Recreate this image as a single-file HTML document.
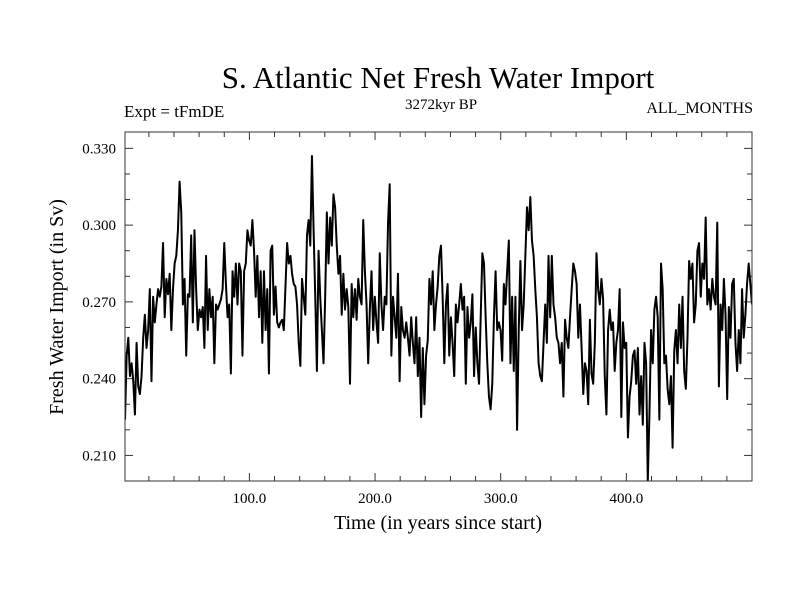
<!DOCTYPE html>
<html><head><meta charset="utf-8"><style>
body{margin:0;background:#fff;}
svg text{font-family:"Liberation Serif",serif;fill:#000;}
</style></head><body>
<svg id="chart" width="800" height="600" viewBox="0 0 800 600" xmlns="http://www.w3.org/2000/svg">
<rect width="800" height="600" fill="#fff"/>
<text x="438" y="88" font-size="31" text-anchor="middle">S. Atlantic Net Fresh Water Import</text>
<text x="124" y="117" font-size="17">Expt = tFmDE</text>
<text x="441" y="109" font-size="15" text-anchor="middle">3272kyr BP</text>
<text x="753" y="113" font-size="16" text-anchor="end">ALL_MONTHS</text>
<text transform="translate(63,307) rotate(-90)" font-size="20" text-anchor="middle">Fresh Water Import (in Sv)</text>
<text x="438" y="529" font-size="20" text-anchor="middle">Time (in years since start)</text>
<defs><clipPath id="clip"><rect x="125" y="132" width="627" height="349"/></clipPath></defs>
<g id="axes"></g>
<path id="series" fill="none" stroke="#000" stroke-width="2" stroke-linejoin="round" clip-path="url(#clip)"/>
<rect x="125" y="132" width="627" height="349" fill="none" stroke="#333" stroke-width="1"/>
</svg>
<script>
const values = [
0.224,0.249,0.256,0.241,0.246,0.239,0.226,0.254,0.237,0.234,0.241,0.256,0.265,0.252,0.259,0.275,0.239,0.272,0.262,0.269,0.275,0.272,0.276,0.293,0.264,0.279,0.273,0.281,0.259,0.275,0.285,0.288,0.298,0.317,0.305,0.269,0.279,0.249,
0.273,0.272,0.296,0.262,0.298,0.275,0.259,0.267,0.264,0.268,0.252,0.288,0.259,0.275,0.264,0.272,0.246,0.269,0.267,0.269,0.271,0.275,0.293,0.277,0.264,0.269,0.242,0.282,0.272,0.285,0.269,0.285,0.282,0.249,0.282,0.285,0.298,0.294,0.292,0.302,0.290,0.272,0.288,0.264,0.282,0.254,0.282,0.259,0.275,0.242,0.290,0.292,0.265,0.276,0.262,0.260,
0.262,0.263,0.259,0.276,0.293,0.285,0.288,0.281,0.277,0.276,0.269,0.254,0.245,0.279,0.272,0.265,0.296,0.302,0.292,0.327,0.298,0.272,0.243,0.290,0.272,0.259,0.246,0.272,0.305,0.285,0.303,0.292,0.312,0.307,0.292,0.281,0.288,0.265,0.281,0.267,0.275,0.268,0.238,0.277,0.264,0.275,0.263,0.279,0.272,0.269,0.302,0.282,0.269,0.246,0.267,0.282,0.259,0.272,0.262,0.254,0.289,0.269,0.259,0.272,0.269,0.301,0.316,0.249,0.272,0.264,0.256,0.281,0.239,0.268,0.259,0.256,0.262,0.256,0.249,0.264,0.254,0.246,0.264,0.241,0.256,0.225,0.252,0.230,0.249,0.255,0.279,0.269,0.282,0.259,0.269,0.276,0.288,
0.292,0.272,0.246,0.269,0.277,0.249,0.264,0.254,0.241,0.269,0.262,0.269,0.277,0.267,0.272,0.238,0.268,0.256,0.262,0.273,0.241,0.260,0.246,0.238,0.264,0.289,0.285,0.264,0.246,0.233,0.228,0.238,0.264,0.282,0.259,0.262,0.259,0.247,0.277,0.269,0.282,0.294,0.246,0.272,0.243,0.272,0.220,0.259,0.286,0.259,0.269,0.288,0.307,0.298,0.311,0.294,0.288,0.275,0.264,0.246,0.241,0.239,0.254,0.269,0.254,0.288,0.264,0.288,0.269,0.264,0.256,0.254,0.246,0.254,0.233,0.263,0.256,0.252,0.264,0.275,0.285,0.282,0.277,0.256,0.269,0.252,0.234,0.246,0.243,0.230,0.263,0.242,0.238,0.254,0.289,0.275,
0.269,0.279,0.271,0.241,0.226,0.259,0.267,0.259,0.262,0.243,0.254,0.259,0.275,0.225,0.262,0.252,0.254,0.217,0.233,0.239,0.249,0.251,0.238,0.252,0.226,0.241,0.222,0.254,0.246,0.200,0.226,0.259,0.246,0.267,0.272,0.264,0.224,0.285,0.275,0.246,0.249,0.236,0.230,0.241,0.213,0.251,0.259,0.246,0.269,0.252,0.272,0.243,0.236,0.256,0.286,0.279,0.285,0.262,0.269,0.290,0.293,0.272,0.285,0.279,0.303,0.269,0.275,0.267,0.279,0.272,0.269,0.301,0.237,0.269,0.259,0.279,0.265,0.232,0.268,0.256,0.277,0.279,0.254,0.243,0.259,0.246,0.275,0.256,0.265,0.277,0.285,0.277,0.269
];
const xTicks = [100, 200, 300, 400];
const xTickLabels = ["100.0", "200.0", "300.0", "400.0"];
const yTicks = [0.21, 0.24, 0.27, 0.30, 0.33];
const yTickLabels = ["0.210", "0.240", "0.270", "0.300", "0.330"];
const xDomain = [1, 500];
const yDomain = [0.2, 0.3364];

const L=125,R=752,T=132,B=481;
function xs(v){return L+(v-xDomain[0])/(xDomain[1]-xDomain[0])*(R-L);}
function ys(v){return B-(v-yDomain[0])/(yDomain[1]-yDomain[0])*(B-T);}
const NS="http://www.w3.org/2000/svg";
const axes=document.getElementById('axes');
function line(x1,y1,x2,y2,name){const l=document.createElementNS(NS,'line');
l.setAttribute('x1',x1);l.setAttribute('y1',y1);l.setAttribute('x2',x2);l.setAttribute('y2',y2);
l.setAttribute('stroke','#333');l.setAttribute('stroke-width','1');


axes.appendChild(l);}
function text(x,y,s,anchor,name){const t=document.createElementNS(NS,'text');
t.setAttribute('x',x);t.setAttribute('y',y);t.setAttribute('font-size','15');t.setAttribute('text-anchor',anchor);t.textContent=s;


axes.appendChild(t);}
// x ticks: major every 100, minor every 20
for(let v=20; v<=480; v+=20){const X=xs(v);const len=(v%100===0)?8:5;
line(X,B,X,B-len,'x-tick');line(X,T,X,T+len,'x-tick-top');}
xTicks.forEach((v,i)=>text(xs(v),503,xTickLabels[i],'middle','x-tick-label'));
for(let k=20; k<=33; k++){const v=k/100;const Y=ys(v);const len=(k%3===0)?8:5;
line(L,Y,L+len,Y,'y-tick');line(R,Y,R-len,Y,'y-tick-right');}
yTicks.forEach((v,i)=>text(116,ys(v)+5,yTickLabels[i],'end','y-tick-label'));
const n=values.length;
let d='';
values.forEach((v,i)=>{const yr=xDomain[0]+i*(xDomain[1]-xDomain[0])/(n-1);
d+=(i?'L':'M')+xs(yr).toFixed(2)+' '+ys(v).toFixed(2);});
document.getElementById('series').setAttribute('d',d);
</script>
</body></html>
